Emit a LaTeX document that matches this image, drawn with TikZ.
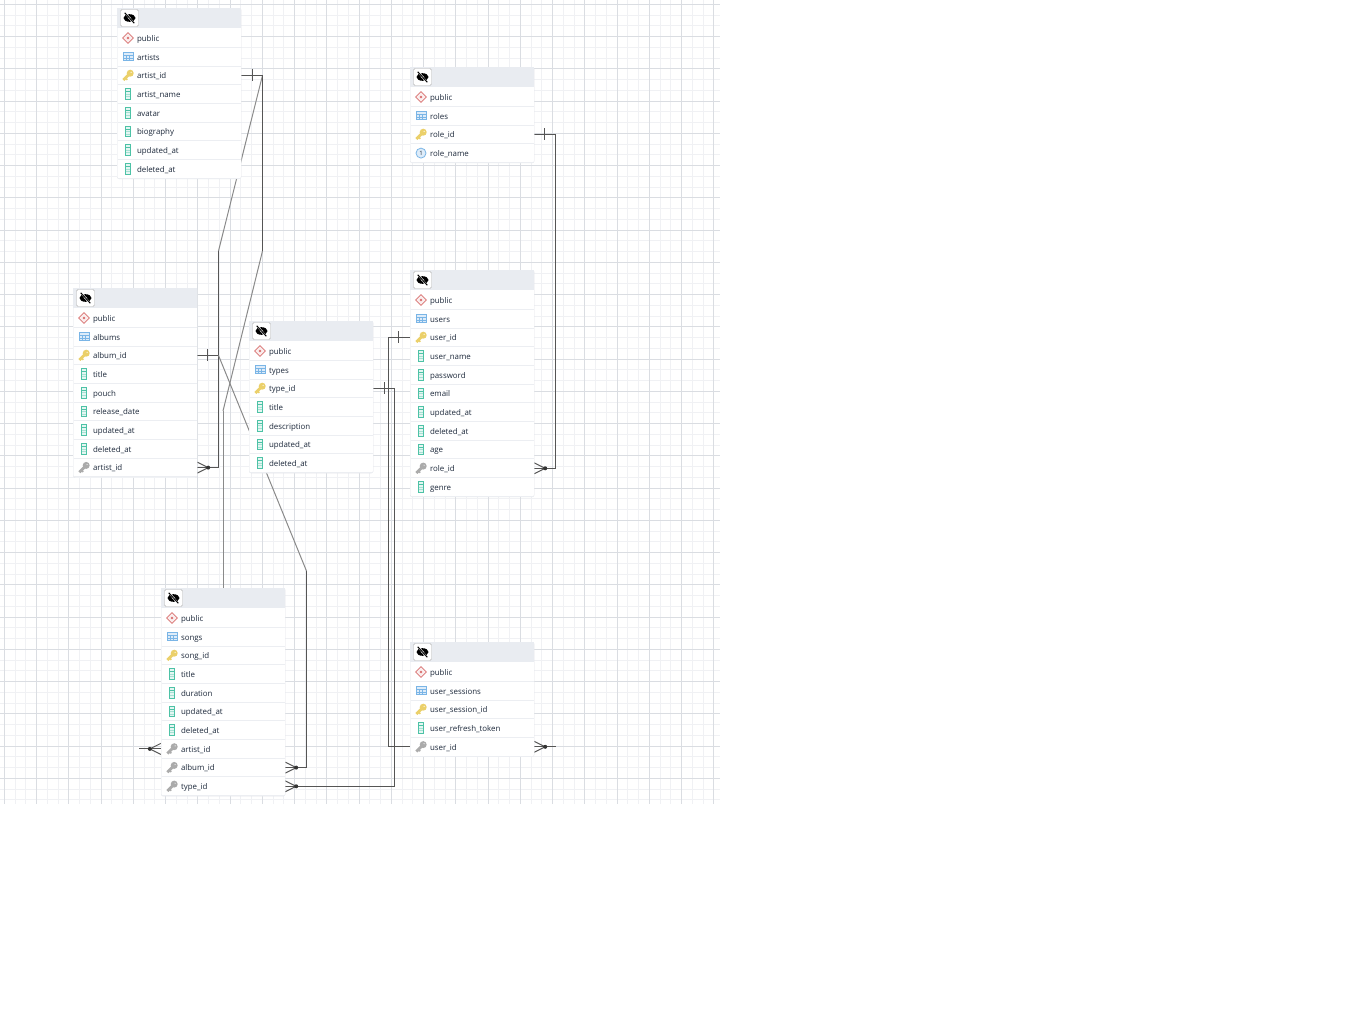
\documentclass[tikz,border=0pt]{standalone}
\usepackage{fontspec}
\setmainfont{Open Sans}
\pgfdeclarelayer{gridlayer}
\pgfdeclarelayer{linklayer}
\pgfsetlayers{gridlayer,linklayer,main}

\definecolor{headgrey}{HTML}{E9ECF1}
\definecolor{framegrey}{HTML}{E2E5EA}
\definecolor{rowline}{HTML}{ECEEF2}
\definecolor{minorgrid}{HTML}{F0F1F4}
\definecolor{majorgrid}{HTML}{DADDE2}
\definecolor{linkgrey}{HTML}{555555}
\definecolor{slopegrey}{HTML}{8A8A8A}
\definecolor{inktext}{HTML}{1E2A3C}
\definecolor{keygold}{HTML}{EBD06A}
\definecolor{keygrey}{HTML}{ABABAB}
\definecolor{colteal}{HTML}{4DC2A6}
\definecolor{tableblue}{HTML}{7AB5E6}
\definecolor{schemared}{HTML}{D9706F}

% Icons of the rows, drawn around (0,0)
\newcommand{\iconschema}{%
  \draw[schemared, fill=schemared!12, line width=.8pt, rotate=45] (-3.8,-3.8) rectangle (3.8,3.8);
  \fill[schemared] (0,0) circle (1.4);}
\newcommand{\icontable}{%
  \draw[tableblue, fill=tableblue!25, line width=.8pt] (-5,-4) rectangle (5,4);
  \draw[tableblue, line width=.6pt] (-5,-1.3) -- (5,-1.3) (-5,1.4) -- (5,1.4) (-1.5,-1.3) -- (-1.5,4) (1.5,-1.3) -- (1.5,4);}
\newcommand{\drawkey}[1]{%
  \draw[#1, line width=2.8pt] (1.5,-1.5) -- (-4.6,4.6);
  \draw[#1, line width=1.6pt] (-2.6,2.6) -- (-.8,4.4);
  \fill[#1] (2.2,-2.2) circle (3.5);
  \fill[white] (3.1,-3.1) circle (.6);}
\newcommand{\iconprimary}{\drawkey{keygold}}
\newcommand{\iconforeign}{\drawkey{keygrey}}
\newcommand{\iconcolumn}{%
  \draw[colteal, fill=colteal!15, line width=.9pt] (-2.3,-5.3) rectangle (2.3,5.3);
  \draw[colteal, line width=.7pt] (-2.3,-2.6) -- (2.3,-2.6);
  \draw[colteal!50, line width=.7pt] (-2.3,0) -- (2.3,0) (-2.3,2.6) -- (2.3,2.6);}
\newcommand{\iconunique}{%
  \node[circle, draw=tableblue, fill=tableblue!25, line width=.8pt, minimum size=10pt, inner sep=0pt, text=inktext, font=\fontsize{6}{6}\selectfont] at (0,0) {1};}

\tikzset{
  tablebox/.style={draw=framegrey, fill=white, rounded corners=2pt, anchor=north west, minimum width=124pt, inner sep=0pt},
  headbox/.style={fill=headgrey, anchor=north west, minimum width=124pt, minimum height=20pt, inner sep=0pt},
  eyebutton/.style={draw=black!30, fill=white, rounded corners=1.5pt, minimum width=18pt, minimum height=17pt, inner sep=0pt},
  rowbox/.style={minimum height=18pt, text width=120pt, inner xsep=2pt, inner ysep=0pt, align=left, text=inktext,
    text height=7.3pt, text depth=.7pt, font=\fontsize{7.9}{9}\selectfont},
  reflink/.style={draw=linkgrey, line width=1pt},
  slopelink/.style={draw=slopegrey, line width=1pt},
  pics/onebar/.style={code={\draw[reflink] (0,-6) -- (0,6);}},
  pics/crowfoot/.style={code={
    \draw[reflink] (0,-5.5) -- (11,0) -- (0,5.5);
    \fill[black!80] (11,0) circle (2);}}
}

% name, left, top, number of rows, rows
\newcommand{\dbtable}[5]{
  \pgfmathsetmacro{\tableheight}{21+#4*18.7}
  \node[tablebox, minimum height=\tableheight pt] (#1) at (#2,#3) {};
  \node[headbox] (#1-head) at (#2,#3) {};
  \node[eyebutton] (#1-eye) at ({#2+12.5},{#3+10}) {};
  \begin{scope}[shift={(#1-eye.center)}]
    \fill[black] (0,0) ellipse (6 and 3.8);
    \fill[white] (0,0) circle (1.4);
    \draw[white, line width=1.8pt] (-4.2,-5) -- (4.2,5);
    \draw[black, line width=1pt] (-4.8,-5.2) -- (4.8,5.2);
  \end{scope}
  \foreach \kind/\rowtext [count=\i] in {#5} {
    \pgfmathsetmacro{\rowy}{#3+30+(\i-1)*18.7}
    \node[rowbox] (#1-\i) at ({#2+62},\rowy) {\hspace*{18pt}\rowtext};
    \draw[rowline, line width=1pt] ({#2+.5},{\rowy+9.3}) -- ({#2+123.5},{\rowy+9.3});
    \begin{scope}[shift={({#2+11},\rowy)}]
      \csname icon\kind\endcsname
    \end{scope}
  }
}

\begin{document}
\begin{tikzpicture}[x=1pt, y=-1pt]
  \useasboundingbox (0,0) rectangle (1352,1015);

  % Background grid
  \begin{pgfonlayer}{gridlayer}
    \foreach \k in {0,...,66} \draw[minorgrid, line width=.8pt] ({4.3+10.75*\k},0) -- ({4.3+10.75*\k},804);
    \foreach \k in {0,...,74} \draw[minorgrid, line width=.8pt] (0,{4.3+10.75*\k}) -- (720,{4.3+10.75*\k});
    \foreach \k in {0,3,...,66} \draw[majorgrid, line width=.8pt] ({4.3+10.75*\k},0) -- ({4.3+10.75*\k},804);
    \foreach \k in {0,3,...,72} \draw[majorgrid, line width=.8pt] (0,{4.3+10.75*\k}) -- (720,{4.3+10.75*\k});
  \end{pgfonlayer}

  % Tables
  \dbtable{artists}{117}{8}{8}{schema/public, table/artists, primary/artist\_id, column/artist\_name,
    column/avatar, column/biography, column/updated\_at, column/deleted\_at}
  \dbtable{albums}{73}{288}{9}{schema/public, table/albums, primary/album\_id, column/title, column/pouch,
    column/release\_date, column/updated\_at, column/deleted\_at, foreign/artist\_id}
  \dbtable{types}{249}{321}{7}{schema/public, table/types, primary/type\_id, column/title, column/description,
    column/updated\_at, column/deleted\_at}
  \dbtable{songs}{161}{588}{10}{schema/public, table/songs, primary/song\_id, column/title, column/duration,
    column/updated\_at, column/deleted\_at, foreign/artist\_id, foreign/album\_id, foreign/type\_id}
  \dbtable{roles}{410}{67}{4}{schema/public, table/roles, primary/role\_id, unique/role\_name}
  \dbtable{users}{410}{270}{11}{schema/public, table/users, primary/user\_id, column/user\_name, column/password,
    column/email, column/updated\_at, column/deleted\_at, column/age, foreign/role\_id, column/genre}
  \dbtable{sessions}{410}{642}{5}{schema/public, table/user\_sessions, primary/user\_session\_id,
    column/user\_refresh\_token, foreign/user\_id}

  % Free ends of the links that run behind a table
  \coordinate (songsEnd) at ([xshift=-22pt]songs-8.west);
  \coordinate (sessionsEnd) at ([xshift=22pt]sessions-5.east);
  % Bends of the links
  \coordinate (artistsBend) at (262.5,0 |- artists-3.east);
  \coordinate (albumsBend) at (218.5,0 |- albums-3.east);

  % Links
  \begin{pgfonlayer}{linklayer}
    \draw[reflink] (artists-3.east) -- (artistsBend) edge[slopelink] (218.5,251)
      (218.5,251) -- (218.5,0 |- albums-9.east) -- (albums-9.east);
    \draw[reflink] (artists-3.east) -- (artistsBend) -- (262.5,251) edge[slopelink] (223,411)
      (223,411) edge[slopelink] (223,0 |- songs-8.west) (223,0 |- songs-8.west) -- (songsEnd);
    \draw[reflink] (albums-3.east) -- (albumsBend) edge[slopelink] (306.5,571)
      (306.5,571) -- (306.5,0 |- songs-9.east) -- (songs-9.east);
    \draw[reflink] (types-3.east) -- (394.5,0 |- types-3.east) -- (394.5,0 |- songs-10.east) -- (songs-10.east);
    \draw[reflink] (users-3.west) -- (388.5,0 |- users-3.west) -- (388.5,0 |- sessions-5.west) -- (sessionsEnd);
    \draw[reflink] (roles-3.east) -- (555.5,0 |- roles-3.east) -- (555.5,0 |- users-10.east) -- (users-10.east);

    \pic at ([xshift=11pt]artists-3.east) {onebar};
    \pic at ([xshift=10pt]albums-3.east) {onebar};
    \pic at ([xshift=11pt]types-3.east) {onebar};
    \pic at ([xshift=-11pt]users-3.west) {onebar};
    \pic at ([xshift=10pt]roles-3.east) {onebar};

    \pic at (albums-9.east) {crowfoot};
    \pic at (songs-9.east) {crowfoot};
    \pic at (songs-10.east) {crowfoot};
    \pic at (users-10.east) {crowfoot};
    \pic at (sessions-5.east) {crowfoot};
    \pic[xscale=-1] at (songs-8.west) {crowfoot};
  \end{pgfonlayer}
\end{tikzpicture}
\end{document}
